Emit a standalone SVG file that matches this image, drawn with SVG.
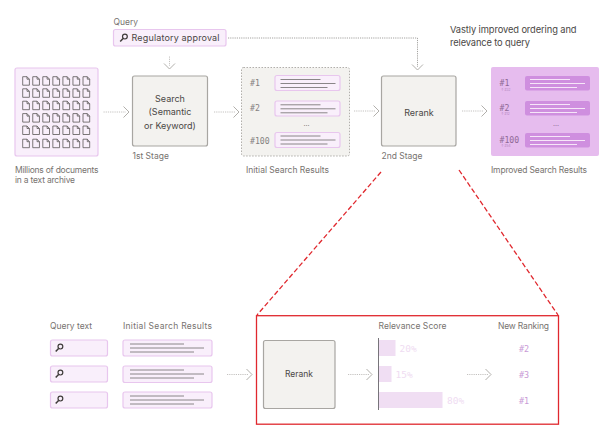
<svg xmlns="http://www.w3.org/2000/svg" width="616" height="444" viewBox="0 0 616 444">
<style>
text{font-family:"Inter","Liberation Sans",sans-serif;font-size:8.5px;fill:#77736f}
.d{fill:#4a4745}
.m{font-family:"DejaVu Sans Mono","Liberation Mono",monospace;font-size:8.2px;fill:#85817f}
.w{fill:#8f6a96}
.tiny{font-size:3.200px;fill:#b283bd}
.box{fill:#f3f2ef;stroke:#a8a6a2;stroke-width:1.2}
.pill{fill:#f9effb;stroke:#e8c6ee;stroke-width:1.2}
.solid{fill:#cf8fdf}
.l1{stroke:#8a8688;stroke-width:1;fill:none}
.l2{stroke:#f6e6f8;stroke-width:1;fill:none}
.flow{stroke:#b5b3b0;stroke-width:.8;fill:none;stroke-dasharray:1.2 1}
.head{stroke:#a8a6a2;stroke-width:.9;fill:none}
.red{stroke:#e0282e;fill:none}
.bar{fill:#f0def3}
.pct{font-size:9.500px;fill:#efdcf2;font-family:"DejaVu Sans Mono","Liberation Mono",monospace}
.rank{font-size:8.500px;fill:#c99bd6;font-family:"DejaVu Sans Mono","Liberation Mono",monospace}
.doc{fill:none;stroke:#5a5757;stroke-width:.8}
</style>
<defs>
<g id="doc"><path class="doc" d="M0 0H4.300L6.700 2.500V8.500H0Z"/><path class="doc" d="M4.300 0V2.500H6.700"/></g>
<g id="row"><use href="#doc" x="0"/><use href="#doc" x="10.050"/><use href="#doc" x="20.100"/><use href="#doc" x="30.150"/><use href="#doc" x="40.200"/><use href="#doc" x="50.250"/><use href="#doc" x="60.300"/></g>
<g id="lens"><circle cx="1.400" cy="-1.400" r="2.400" fill="none" stroke="#3f3c3a" stroke-width="1.200"/><path d="M-.4 .4L-3.300 3.400" stroke="#3f3c3a" stroke-width="1.500"/></g>
<g id="lines"><path class="l1" d="M0 0H40M0 4H55M0 8H47"/></g>
<g id="wlines"><path class="l2" d="M0 0H40M0 4H55M0 8H47"/></g>
<g id="longlines"><path class="l1" d="M0 0H54M0 4H74M0 8H64"/></g>
<path id="ch" class="head" d="M-2.500 -5.500L3 0L-2.500 5.500"/>
</defs>

<g id="connectors">
<path class="flow" d="M103.500 112H126"/><use href="#ch" x="126" y="112"/>
<path class="flow" d="M214 112H236"/><use href="#ch" x="236" y="112"/>
<path class="flow" d="M354 111H376"/><use href="#ch" x="376" y="111"/>
<path class="flow" d="M462 111H484"/><use href="#ch" x="484" y="111"/>
<path class="flow" d="M169.500 56.500V66"/><use href="#ch" transform="translate(169.500 66) rotate(90)"/>
<path class="flow" d="M228 38H417.500V67" stroke-dasharray="1.500 1.500" style="stroke:#8d8b88"/><use href="#ch" transform="translate(417.500 67) rotate(90)"/>
<path class="flow" d="M227 374.500H249"/><use href="#ch" x="249" y="374.500"/>
<path class="flow" d="M348 374.500H369"/><use href="#ch" x="369" y="374.500"/>
<path class="flow" d="M467 374.500H488"/><use href="#ch" x="488" y="374.500"/>
<path class="red" stroke-width="1.300" stroke-dasharray="5 2.500" d="M381 172L257 315M459 170L558 315"/>
</g>

<g id="archive">
<rect x="15" y="68" width="83" height="88" rx="2" class="pill"/>
<use href="#row" x="22.700" y="76.700"/><use href="#row" x="22.700" y="88.800"/><use href="#row" x="22.700" y="101.200"/><use href="#row" x="22.700" y="113.600"/><use href="#row" x="22.700" y="126"/><use href="#row" x="22.700" y="139.200"/>
<text x="15" y="172.500" textLength="83.500">Millions of documents</text>
<text x="15" y="183" textLength="60">in a text archive</text>
</g>

<g id="query">
<text x="113.500" y="25">Query</text>
<rect x="113.500" y="29.500" width="112.500" height="16.500" rx="2" class="pill"/>
<use href="#lens" x="123.500" y="38"/>
<text x="131.500" y="41" class="d" textLength="88" style="font-size:9px">Regulatory approval</text>
</g>

<g id="search">
<rect x="132.500" y="76" width="75" height="70" rx="2" class="box"/>
<text x="170" y="102" text-anchor="middle" class="d" style="font-size:9px">Search</text>
<text x="170" y="115" text-anchor="middle" class="d" style="font-size:9px">(Semantic</text>
<text x="170" y="128.500" text-anchor="middle" class="d" style="font-size:9px">or Keyword)</text>
<text x="132.500" y="159">1st Stage</text>
</g>

<g id="initial">
<rect x="241.500" y="67.500" width="108" height="88.500" rx="2" fill="#f3f2ef" stroke="#a8a6a2" stroke-width=".9" stroke-dasharray="1.500 1.500"/>
<text x="250" y="86" class="m">#1</text>
<text x="250" y="111" class="m">#2</text>
<text x="250" y="143.500" class="m">#100</text>
<text x="306.500" y="126" text-anchor="middle" style="font-size:7px">...</text>
<rect x="275" y="75.500" width="65" height="15" rx="2" class="pill"/><use href="#lines" x="280.500" y="79.500"/>
<rect x="275" y="101" width="65" height="15" rx="2" class="pill"/><use href="#lines" x="280.500" y="104.800"/>
<rect x="275" y="132.500" width="65" height="15" rx="2" class="pill"/><use href="#lines" x="280.500" y="136"/>
<text x="246" y="172.500" textLength="83">Initial Search Results</text>
</g>

<g id="rerank">
<rect x="381.500" y="76" width="74.500" height="70" rx="2" class="box"/>
<text x="419" y="116" text-anchor="middle" class="d" style="font-size:9px">Rerank</text>
<text x="381.500" y="159">2nd Stage</text>
</g>

<g id="improved">
<rect x="491" y="67" width="108" height="89" rx="2" fill="#e6bcee"/>
<text x="499.500" y="86" class="m w">#1</text>
<text x="501" y="90.500" class="tiny">↑ #32</text>
<text x="499.500" y="111" class="m w">#2</text>
<text x="501" y="115" class="tiny">↑ #12</text>
<text x="499.500" y="143" class="m w">#100</text>
<text x="501" y="147" class="tiny">↑ #54</text>
<rect x="525" y="76" width="65" height="14.500" rx="2" class="solid"/><use href="#wlines" x="530" y="79.500"/>
<rect x="525" y="101" width="65" height="14.500" rx="2" class="solid"/><use href="#wlines" x="530" y="104.500"/>
<rect x="525" y="133" width="65" height="14.500" rx="2" class="solid"/><use href="#wlines" x="530" y="136.500"/>
<text x="556" y="126" text-anchor="middle" style="font-size:7px;fill:#8f6a96">...</text>
<text x="491" y="172.500" textLength="96">Improved Search Results</text>
<text x="450" y="33" class="d" textLength="126.500" style="font-size:9.300px">Vastly improved ordering and</text>
<text x="450" y="46" class="d" textLength="80" style="font-size:9.300px">relevance to query</text>
</g>

<g id="inputs">
<text x="50" y="328.500" textLength="42">Query text</text>
<text x="123" y="328.500" textLength="89">Initial Search Results</text>
<rect x="50.500" y="340" width="57" height="16" rx="2" class="pill"/><use href="#lens" x="59" y="348"/>
<rect x="50.500" y="366" width="57" height="16" rx="2" class="pill"/><use href="#lens" x="59" y="374"/>
<rect x="50.500" y="392" width="57" height="16" rx="2" class="pill"/><use href="#lens" x="59" y="400"/>
<rect x="123" y="340" width="89" height="16" rx="2" class="pill"/><use href="#longlines" x="130" y="344"/>
<rect x="123" y="366" width="89" height="16.500" rx="2" class="pill"/><use href="#longlines" x="130" y="370"/>
<rect x="123" y="392" width="89" height="16" rx="2" class="pill"/><use href="#longlines" x="130" y="396"/>
</g>

<g id="detail">
<rect x="256.500" y="315.700" width="302" height="108.500" fill="none" stroke="#e0282e" stroke-width="1.300"/>
<rect x="263.500" y="340.500" width="71.500" height="68" rx="2" class="box"/>
<text x="299" y="377" text-anchor="middle" class="d">Rerank</text>
<text x="378.500" y="329" textLength="68">Relevance Score</text>
<text x="498" y="329" textLength="51">New Ranking</text>
<rect x="378.500" y="340" width="17" height="16" class="bar"/>
<rect x="378.500" y="366" width="13" height="16" class="bar"/>
<rect x="378.500" y="392" width="64" height="16" class="bar"/>
<path d="M378.500 338V410" stroke="#77747a" stroke-width="1" fill="none"/>
<text x="399.500" y="352" class="pct">20%</text>
<text x="395.500" y="378" class="pct">15%</text>
<text x="447" y="404" class="pct">80%</text>
<text x="519" y="352" class="rank">#2</text>
<text x="519" y="378" class="rank">#3</text>
<text x="519" y="404" class="rank">#1</text>
</g>
</svg>
